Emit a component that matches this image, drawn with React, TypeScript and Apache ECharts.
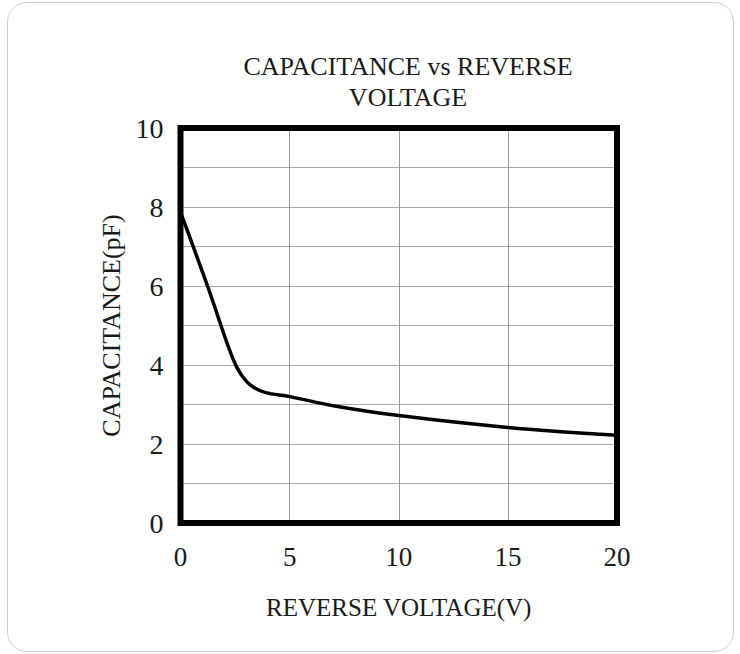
import React, { useEffect, useRef } from "react";
import * as echarts from "echarts";

const voltage = [0, 1.27, 2.2, 2.6, 3.0, 3.4, 3.9, 5, 7, 10, 15, 20];
const capacitance = [7.87, 5.95, 4.45, 3.92, 3.6, 3.42, 3.3, 3.2, 2.97, 2.72, 2.42, 2.22];
const titleLines = ["CAPACITANCE vs REVERSE", "VOLTAGE"];
const xAxisName = "REVERSE VOLTAGE(V)";
const yAxisName = "CAPACITANCE(pF)";

const FONT = "'Liberation Serif', 'Times New Roman', serif";

export default function App() {
  const ref = useRef<HTMLDivElement>(null);
  useEffect(() => {
    if (!ref.current) return;
    const chart = echarts.init(ref.current, null, { renderer: "svg" });
    const data = voltage.map((v, i) => [v, capacitance[i]]);
    chart.setOption({
      animation: false,
      backgroundColor: "transparent",
      title: {
        text: titleLines.join("\n"),
        left: 403,
        top: 46,
        textAlign: "center",
        textStyle: {
          fontFamily: FONT,
          fontSize: 26,
          fontWeight: "normal",
          color: "#1a1a1a",
          lineHeight: 31,
        },
      },
      grid: {
        left: 180.5,
        top: 128,
        right: 123,
        bottom: 131,
        show: true,
        borderColor: "#000",
        borderWidth: 6,
        backgroundColor: "transparent",
        z: 10,
      },
      xAxis: {
        type: "value",
        min: 0,
        max: 20,
        interval: 5,
        name: xAxisName,
        nameLocation: "middle",
        nameGap: 72,
        nameTextStyle: { fontFamily: FONT, fontSize: 25, color: "#1a1a1a" },
        axisLine: { show: false },
        axisTick: { show: false },
        axisLabel: { fontFamily: FONT, fontSize: 27, color: "#1a1a1a", margin: 20 },
        splitLine: {
          show: true,
          showMinLine: false,
          showMaxLine: false,
          lineStyle: { color: "#999", width: 1 },
        },
      },
      yAxis: {
        type: "value",
        min: 0,
        max: 10,
        interval: 1,
        name: yAxisName,
        nameLocation: "middle",
        nameGap: 54,
        nameTextStyle: { fontFamily: FONT, fontSize: 26, color: "#1a1a1a" },
        axisLine: { show: false },
        axisTick: { show: false },
        axisLabel: {
          fontFamily: FONT,
          fontSize: 28,
          color: "#1a1a1a",
          margin: 17,
          formatter: (v: number) => (v % 2 === 0 ? String(v) : ""),
        },
        splitLine: {
          show: true,
          showMinLine: false,
          showMaxLine: false,
          lineStyle: { color: "#aaa", width: 1 },
        },
      },
      series: [
        {
          type: "line",
          data,
          smooth: 0.35,
          showSymbol: false,
          symbol: "none",
          lineStyle: { color: "#000", width: 3.5 },
          z: 1,
        },
      ],
    });
    return () => chart.dispose();
  }, []);
  return (
    <div>
      <div
        style={{
          position: "absolute",
          left: 7,
          top: 2,
          width: 727,
          height: 650,
          border: "1px solid #cfcfcf",
          borderRadius: 20,
          boxSizing: "border-box",
          background: "#fff",
        }}
      />
      <div
        ref={ref}
        style={{ position: "absolute", left: 0, top: 0, width: 740, height: 654 }}
      />
    </div>
  );
}
